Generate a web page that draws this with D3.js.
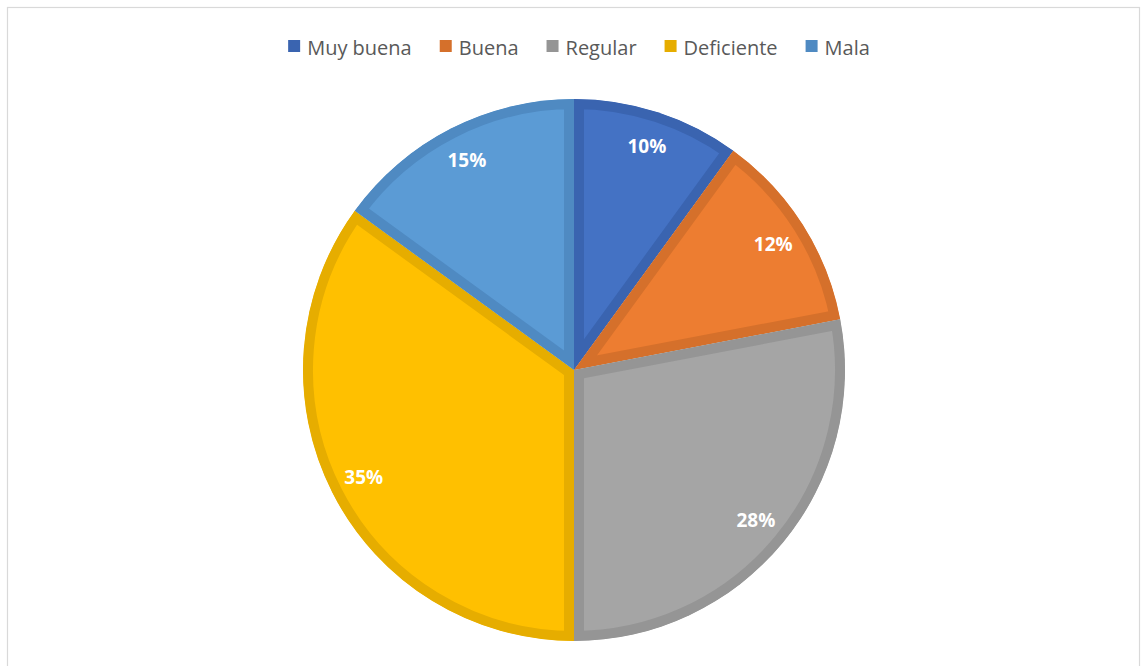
<!DOCTYPE html>
<html>
<head>
<meta charset="utf-8">
<script src="https://cdn.jsdelivr.net/npm/d3@7"></script>
<style>
  html, body { margin: 0; padding: 0; background: #ffffff; }
  svg { display: block; }
</style>
</head>
<body>
<svg id="chart" width="1141" height="666"></svg>
<script>
// Survey ratings and their shares (percent)
const categories = ["Muy buena", "Buena", "Regular", "Deficiente", "Mala"];
const shares = [10, 12, 28, 35, 15];
const fillColors = ["#4472C4", "#ED7D31", "#A5A5A5", "#FFC000", "#5B9BD5"];
const edgeColors = ["#3A64B0", "#D5702B", "#959595", "#E6AD00", "#4F8AC2"];

const svg = d3.select("#chart");

// Chart frame
svg.append("rect")
  .attr("x", 7.5).attr("y", 7.5)
  .attr("width", 1132).attr("height", 680)
  .attr("fill", "#ffffff")
  .attr("stroke", "#D9D9D9")
  .attr("stroke-width", 1.2);

const cx = 574, cy = 370, R = 271;
const data = categories.map((c, i) => ({ name: c, value: shares[i], i }));

const pie = d3.pie().value(d => d.value).sort(null);
const arcs = pie(data);
const arc = d3.arc().innerRadius(0).outerRadius(R);
const labelArc = d3.arc().innerRadius(236).outerRadius(236);

const defs = svg.append("defs");
const g = svg.append("g").attr("transform", `translate(${cx},${cy})`);

// Each slice: fill plus an inner darker band, clipped to the slice shape
arcs.forEach((a, k) => {
  const id = "clip-slice-" + k;
  defs.append("clipPath").attr("id", id)
    .append("path").attr("d", arc(a));
  g.append("path")
    .attr("d", arc(a))
    .attr("fill", fillColors[a.data.i])
    .attr("stroke", edgeColors[a.data.i])
    .attr("stroke-width", 20)
    .attr("clip-path", `url(#${id})`);
});

// Percentage labels
arcs.forEach(a => {
  const [x, y] = labelArc.centroid(a);
  g.append("text")
    .attr("x", x).attr("y", y)
    .attr("text-anchor", "middle")
    .attr("dominant-baseline", "central")
    .attr("font-family", "'Open Sans', sans-serif")
    .attr("font-weight", 700)
    .attr("font-size", 19)
    .attr("fill", "#ffffff")
    .text(a.data.value + "%");
});

// Legend, centred above the pie
const legend = svg.append("g");
const swatch = 12, swGap = 7, itemGap = 28, baseY = 55;
const items = categories.map((c, i) => {
  const item = legend.append("g");
  item.append("rect")
    .attr("width", swatch).attr("height", swatch)
    .attr("y", baseY - 15)
    .attr("fill", edgeColors[i]);
  const t = item.append("text")
    .attr("x", swatch + swGap)
    .attr("y", baseY)
    .attr("font-family", "'Open Sans', sans-serif")
    .attr("font-size", 20)
    .attr("fill", "#595959")
    .text(c);
  return { item, width: swatch + swGap + t.node().getComputedTextLength() };
});
const total = d3.sum(items, d => d.width) + itemGap * (items.length - 1);
let x = 579 - total / 2;
items.forEach(d => {
  d.item.attr("transform", `translate(${x},0)`);
  x += d.width + itemGap;
});
</script>
</body>
</html>
